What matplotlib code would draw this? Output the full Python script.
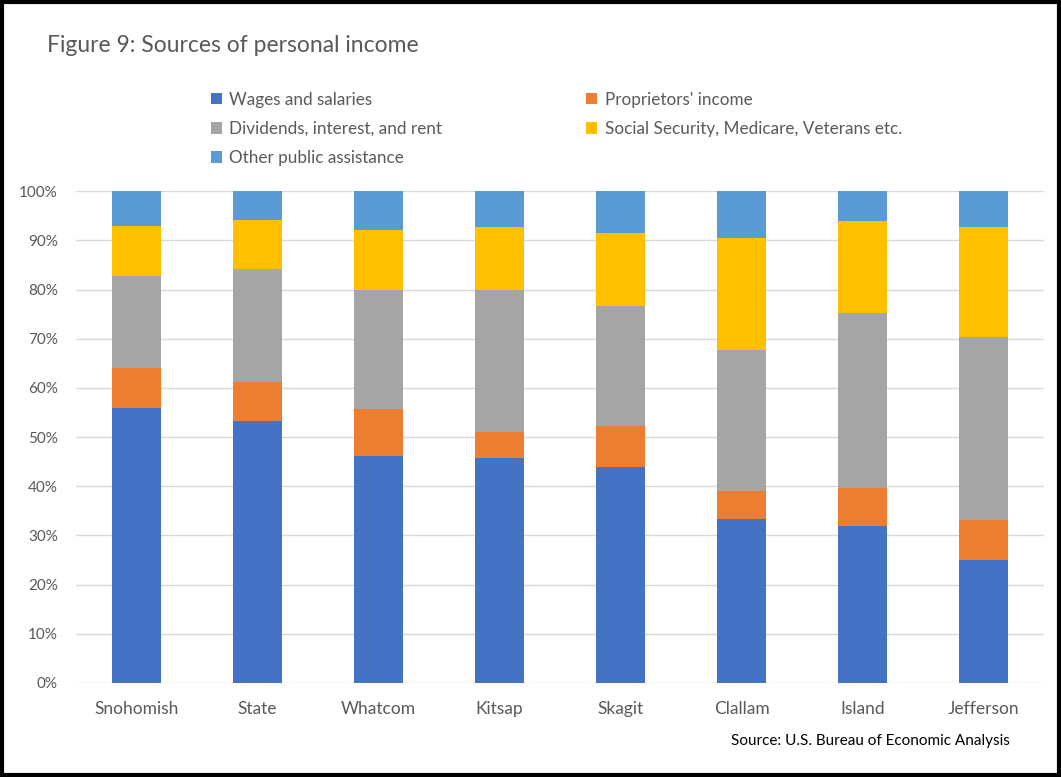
import numpy as np
import matplotlib.pyplot as plt
from matplotlib.patches import Rectangle
from matplotlib.ticker import PercentFormatter

plt.rcParams['font.family'] = ['Lato', 'DejaVu Sans']

# Доли источников дохода по округам, %
counties = ['Snohomish', 'State', 'Whatcom', 'Kitsap', 'Skagit', 'Clallam', 'Island', 'Jefferson']
wages = [56.0, 53.3, 46.2, 45.7, 44.0, 33.3, 31.9, 25.1]
proprietors = [8.0, 7.9, 9.5, 5.3, 8.2, 5.8, 7.8, 8.0]
dividends = [18.8, 23.0, 24.1, 29.0, 24.5, 28.7, 35.6, 37.3]
social_security = [10.2, 9.9, 12.2, 12.8, 14.8, 22.7, 18.6, 22.4]
other_assistance = [7.0, 5.9, 8.0, 7.2, 8.5, 9.5, 6.1, 7.2]

series = [
    ('Wages and salaries', wages, '#4472C4'),
    ("Proprietors' income", proprietors, '#ED7D31'),
    ('Dividends, interest, and rent', dividends, '#A5A5A5'),
    ('Social Security, Medicare, Veterans etc.', social_security, '#FFC000'),
    ('Other public assistance', other_assistance, '#5B9BD5'),
]

fig = plt.figure(figsize=(10.61, 7.77), dpi=100)
ax = fig.add_axes([0.0716, 0.121, 0.9124, 0.633])

x = np.arange(len(counties))
bottom = np.zeros(len(counties))
handles = {}
for name, values, color in series:
    vals = np.array(values) / 100
    bars = ax.bar(x, vals, 0.4, bottom=bottom, color=color, label=name, zorder=3)
    handles[name] = bars
    bottom += vals

ax.set_xlim(-0.5, len(counties) - 0.5)
ax.set_ylim(0, 1)
ax.set_yticks(np.arange(0, 1.01, 0.1))
ax.yaxis.set_major_formatter(PercentFormatter(1.0, decimals=0))
ax.set_xticks(x)
ax.set_xticklabels(counties)
ax.tick_params(axis='both', length=0, colors='#595959')
ax.tick_params(axis='y', pad=13, labelsize=11)
ax.tick_params(axis='x', pad=13, labelsize=12.5)
ax.grid(axis='y', color='#D9D9D9', linewidth=1, zorder=0)
for s in ax.spines.values():
    s.set_visible(False)

# Заголовок и подпись источника
fig.text(0.0443, 0.942, 'Figure 9: Sources of personal income', fontsize=16.5,
         color='#595959', va='center', ha='left')
fig.text(0.952, 0.046, 'Source: U.S. Bureau of Economic Analysis', fontsize=11,
         color='black', va='center', ha='right')

# Легенда: порядок по строкам, две колонки
order = ['Wages and salaries', 'Dividends, interest, and rent', 'Other public assistance',
         "Proprietors' income", 'Social Security, Medicare, Veterans etc.']
fig.legend([handles[n] for n in order], order, ncol=2, frameon=False,
           loc='upper left', bbox_to_anchor=(0.184, 0.902), fontsize=12.3,
           labelcolor='#595959', handlelength=0.65, handleheight=0.65,
           handletextpad=0.45, columnspacing=8.4, labelspacing=0.78)

# Рамка вокруг рисунка
fig.patches.append(Rectangle((0.002, 0.003), 0.996, 0.995, transform=fig.transFigure,
                             fill=False, edgecolor='black', linewidth=3))

plt.savefig('out.png', dpi=100)
